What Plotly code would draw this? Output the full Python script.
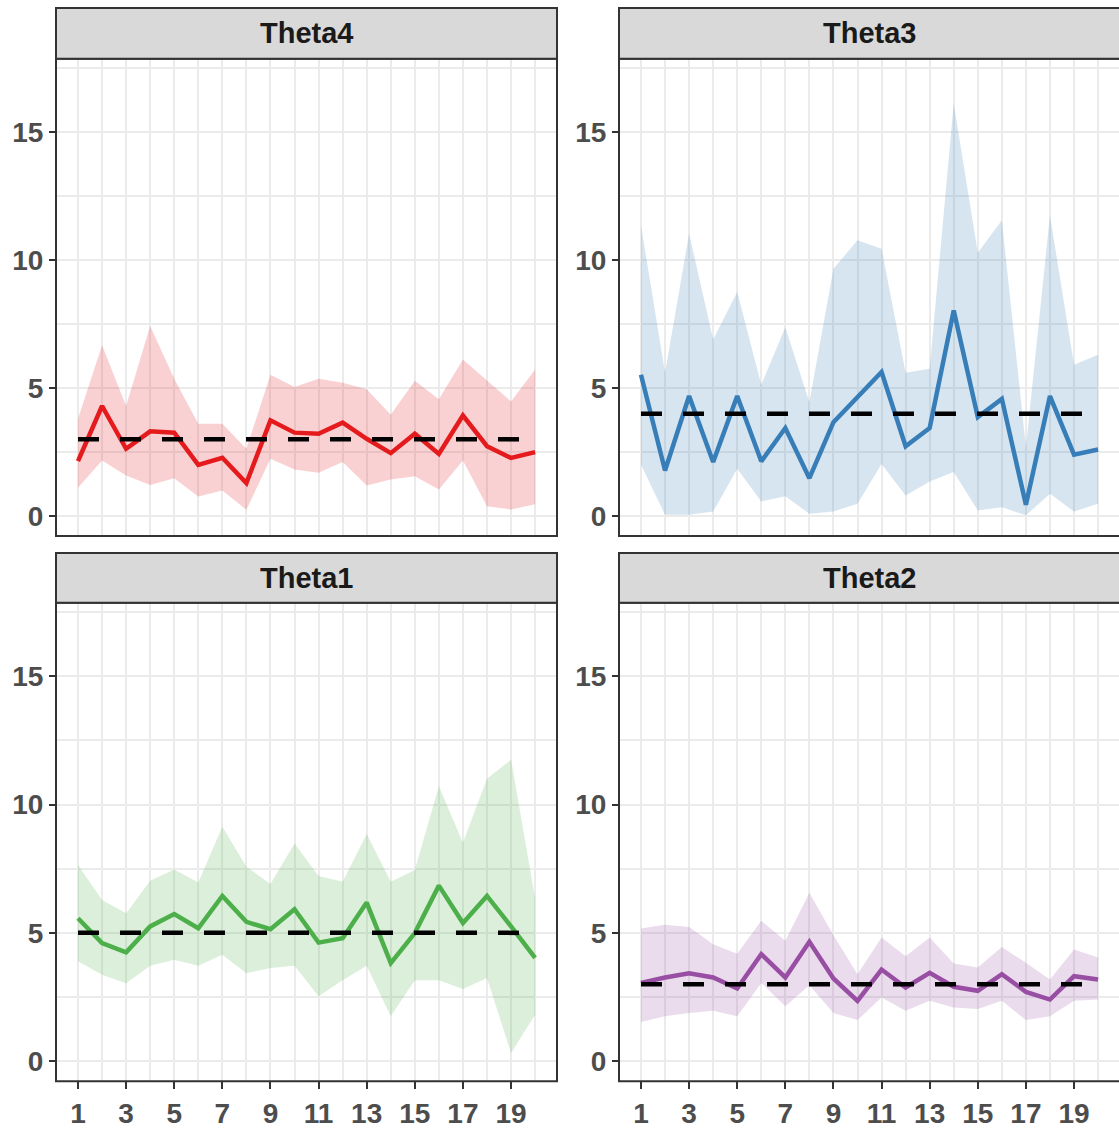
import plotly.graph_objects as go

W, H = 1119, 1129

x_vals = list(range(1, 21))

panel_names = ["Theta4", "Theta3", "Theta1", "Theta2"]
true_values = [3, 4, 5, 3]

theta4_mean = [2.15, 4.30, 2.63, 3.31, 3.26, 2.00, 2.28, 1.29, 3.74, 3.26,
               3.22, 3.65, 3.02, 2.46, 3.22, 2.43, 3.93, 2.73, 2.27, 2.50]
theta4_upper = [3.80, 6.67, 4.30, 7.42, 5.36, 3.61, 3.61, 2.63, 5.52, 5.04,
                5.36, 5.21, 4.95, 3.96, 5.29, 4.56, 6.12, 5.30, 4.48, 5.73]
theta4_lower = [1.11, 2.17, 1.59, 1.22, 1.48, 0.77, 1.00, 0.25, 2.24, 1.82,
                1.69, 2.11, 1.20, 1.43, 1.56, 1.04, 2.17, 0.39, 0.26, 0.46]

theta3_mean = [5.52, 1.78, 4.69, 2.11, 4.69, 2.14, 3.44, 1.48, 3.67, 4.65,
               5.63, 2.73, 3.44, 8.03, 3.87, 4.58, 0.44, 4.69, 2.40, 2.60]
theta3_upper = [11.35, 5.60, 11.03, 6.90, 8.75, 5.13, 7.38, 4.45, 9.66, 10.77,
                10.44, 5.60, 5.76, 16.11, 10.29, 11.55, 2.70, 11.74, 5.91, 6.30]
theta3_lower = [2.01, 0.05, 0.05, 0.18, 1.85, 0.57, 0.78, 0.09, 0.18, 0.48,
                2.04, 0.81, 1.35, 1.72, 0.22, 0.35, 0.03, 0.87, 0.18, 0.48]

theta1_mean = [5.57, 4.60, 4.24, 5.25, 5.73, 5.18, 6.44, 5.43, 5.14, 5.92,
               4.62, 4.79, 6.18, 3.82, 4.99, 6.84, 5.38, 6.44, 5.25, 4.02]
theta1_upper = [7.64, 6.28, 5.76, 7.03, 7.47, 6.96, 9.13, 7.58, 6.90, 8.48,
                7.22, 6.99, 8.85, 6.99, 7.45, 10.71, 8.51, 11.01, 11.75, 6.35]
theta1_lower = [3.89, 3.37, 3.04, 3.72, 3.95, 3.72, 4.15, 3.43, 3.63, 3.72,
                2.53, 3.15, 3.72, 1.75, 3.15, 3.15, 2.81, 3.24, 0.32, 1.81]

theta2_mean = [3.05, 3.26, 3.42, 3.26, 2.83, 4.17, 3.26, 4.65, 3.22, 2.35,
               3.57, 2.87, 3.44, 2.90, 2.74, 3.39, 2.70, 2.40, 3.31, 3.18]
theta2_upper = [5.17, 5.32, 5.23, 4.56, 4.19, 5.47, 4.69, 6.56, 4.91, 3.39,
                4.82, 4.09, 4.82, 3.81, 3.65, 4.45, 3.83, 3.18, 4.35, 4.04]
theta2_lower = [1.53, 1.75, 1.88, 1.96, 1.75, 3.05, 2.14, 2.96, 1.88, 1.60,
                2.48, 1.96, 2.35, 2.09, 2.03, 2.35, 1.60, 1.75, 2.35, 2.40]

x_tick_vals = [1, 3, 5, 7, 9, 11, 13, 15, 17, 19]
x_minor_vals = [2, 4, 6, 8, 10, 12, 14, 16, 18, 20]
y_tick_vals = [0, 5, 10, 15]
y_minor_vals = [2.5, 7.5, 12.5, 17.5]

means = [theta4_mean, theta3_mean, theta1_mean, theta2_mean]
uppers = [theta4_upper, theta3_upper, theta1_upper, theta2_upper]
lowers = [theta4_lower, theta3_lower, theta1_lower, theta2_lower]
colors = ["#E41A1C", "#377EB8", "#4DAF4A", "#984EA3"]
fills = ["rgba(228,26,28,0.2)", "rgba(55,126,184,0.2)",
         "rgba(77,175,74,0.2)", "rgba(152,78,163,0.2)"]

# pixel geometry
col_x = [(56, 557), (619, 1119)]
row_y = [(59, 538), (605, 1085)]
strip_y = [(8, 59), (555, 605)]
x_ranges = [[0.086, 20.91], [0.086, 20.87]]
y_range = [-0.78, 17.86]


def px_x(p):
    return p / W


def px_y(p):
    return 1 - p / H


fig = go.Figure()
FONT = "Liberation Sans, Arial, sans-serif"
shapes = []
annotations = []

for i in range(4):
    r, c = divmod(i, 2)
    suffix = "" if i == 0 else str(i + 1)
    xa, ya = "x" + suffix, "y" + suffix
    fig.add_trace(go.Scatter(x=x_vals, y=lowers[i], mode="lines",
                             line=dict(width=0, color=fills[i]),
                             xaxis=xa, yaxis=ya, showlegend=False,
                             hoverinfo="skip"))
    fig.add_trace(go.Scatter(x=x_vals, y=uppers[i], mode="lines",
                             line=dict(width=0, color=fills[i]),
                             fill="tonexty", fillcolor=fills[i],
                             xaxis=xa, yaxis=ya, showlegend=False,
                             hoverinfo="skip"))
    fig.add_trace(go.Scatter(x=x_vals, y=means[i], mode="lines",
                             line=dict(width=4.5, color=colors[i]),
                             xaxis=xa, yaxis=ya, showlegend=False))
    fig.add_trace(go.Scatter(x=x_vals, y=[true_values[i]] * len(x_vals),
                             mode="lines",
                             line=dict(width=4.5, color="black", dash="21px,21px"),
                             xaxis=xa, yaxis=ya, showlegend=False))

    x0, x1 = col_x[c]
    y0, y1 = row_y[r]
    bottom = (r == 1)
    xdom = [px_x(x0), px_x(x1)]
    ydom = [px_y(y1), px_y(y0)]
    fig.layout["xaxis" + suffix] = dict(
        domain=xdom, range=x_ranges[c], anchor=ya,
        tickmode="array", tickvals=x_tick_vals,
        showticklabels=bottom, ticks="outside" if bottom else "",
        ticklen=7, tickwidth=2, tickcolor="#333333",
        tickfont=dict(family=FONT, size=28, color="#4D4D4D", weight="bold"),
        showgrid=True, gridcolor="#EBEBEB", gridwidth=2.2,
        minor=dict(tickvals=x_minor_vals, showgrid=True,
                   gridcolor="#EBEBEB", gridwidth=1.5, ticks=""),
        showline=False, zeroline=False, fixedrange=True,
    )
    fig.layout["yaxis" + suffix] = dict(
        domain=ydom, range=y_range, anchor=xa,
        tickmode="array", tickvals=y_tick_vals,
        ticks="outside", ticklen=6, tickwidth=2, tickcolor="#333333",
        tickfont=dict(family=FONT, size=28, color="#4D4D4D", weight="bold"),
        showgrid=True, gridcolor="#EBEBEB", gridwidth=2.2,
        minor=dict(tickvals=y_minor_vals, showgrid=True,
                   gridcolor="#EBEBEB", gridwidth=1.5, ticks=""),
        showline=False, zeroline=False, fixedrange=True,
    )
    right_pad = 2 if c == 1 else 0
    # panel border
    shapes.append(dict(type="rect", xref="paper", yref="paper",
                       x0=px_x(x0), x1=px_x(x1 + right_pad),
                       y0=px_y(y1), y1=px_y(y0),
                       line=dict(color="#333333", width=2),
                       fillcolor="rgba(0,0,0,0)", layer="above"))
    # strip
    sy0, sy1 = strip_y[r]
    shapes.append(dict(type="rect", xref="paper", yref="paper",
                       x0=px_x(x0), x1=px_x(x1 + right_pad),
                       y0=px_y(sy1), y1=px_y(sy0),
                       line=dict(color="#333333", width=2),
                       fillcolor="#D9D9D9", layer="above"))
    annotations.append(dict(xref="paper", yref="paper",
                            x=px_x((x0 + x1 + (1 if c == 1 else 0)) / 2),
                            y=px_y((sy0 + sy1) / 2),
                            text=panel_names[i], showarrow=False,
                            xanchor="center", yanchor="middle",
                            font=dict(family=FONT, size=29, color="#1A1A1A",
                                      weight="bold")))

fig.update_layout(
    width=W, height=H,
    margin=dict(l=0, r=0, t=0, b=0),
    paper_bgcolor="white", plot_bgcolor="white",
    shapes=shapes, annotations=annotations,
    showlegend=False,
)

fig.write_html("out.html")
